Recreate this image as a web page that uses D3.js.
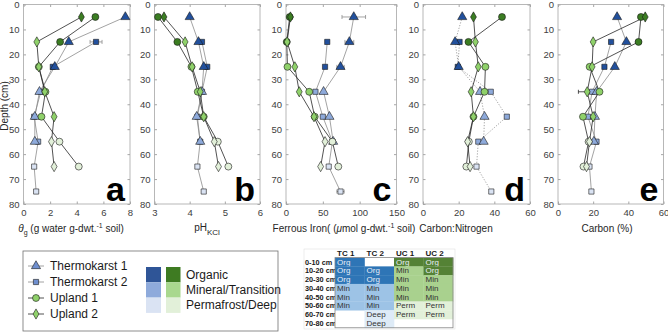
<!DOCTYPE html>
<html>
<head>
<meta charset="utf-8">
<script src="https://cdn.jsdelivr.net/npm/d3@7"></script>
<style>
body{margin:0;background:#fff;}
svg{font-family:"Liberation Sans",Arial,sans-serif;}
</style>
</head>
<body>
<svg id="chart" width="668" height="332"></svg>
<script>
// depths (cm, mid point of each 10 cm slice)
var depthTK1=[5,15,25,35,45,55];
var depthTK2=[15,25,35,45,55,65,75];
var depthUP=[5,15,25,35,45,55,65];

// horizon of each point (sets marker fill)
var hzTK1=["org","org","org","min","min","min"];
var hzTK2=["org","org","min","min","min","deep","deep"];
var hzUP1=["org","org","min","min","min","perm","perm"];
var hzUP2=["org","min","min","min","min","perm","perm"];

// a: gravimetric water
var moistTK1=[7.65,3.4,2.35,1.2,0.85,0.85];
var moistTK2=[5.45,2.2,1.3,0.8,1.1,0.8,0.95];
var moistUP1=[5.4,2.75,1.15,1.65,1.35,2.7,4.15];
var moistUP2=[4.35,1.0,1.15,1.6,2.3,2.1,2.3];
// b: pH
var phTK1=[4.0,4.25,4.4,4.35,4.2,4.3];
var phTK2=[4.35,4.5,4.35,4.22,4.3,4.22,4.4];
var phUP1=[3.1,3.65,4.05,4.23,4.4,4.8,5.1];
var phUP2=[3.27,3.87,4.07,4.3,4.4,4.7,4.82];
// c: ferrous iron
var feTK1=[92,86,74,51,59,64];
var feTK2=[56,53,40,50,63,58,74];
var feUP1=[5,1,2,31.5,39,63,71];
var feUP2=[6,1.5,12,18,38,53,47];
// d: C:N
var cnTK1=[22,18,20,32,34.5,34];
var cnTK2=[20.5,19.5,38,47,31,30,38.3];
var cnUP1=[44.3,25.5,35,34.5,28.3,25.7,24.3];
var cnUP2=[28.3,29.4,31,27,28.3,25,26.4];
// e: carbon
var cTK1=[33.6,38.9,32.3,22,21,20.4];
var cTK2=[30.2,26.4,19.4,17,21.9,17.9,19];
var cUP1=[47.2,45.8,18,23.6,14.2,17.4,14.5];
var cUP2=[49.6,20,19.4,16.6,20,17.9,16.2];

// error bars: [series index, point index, half width]
var errMoist=[[1,0,0.45]];
var errFe=[[0,0,16],[0,1,6],[0,2,5],[1,6,5]];
var errC=[[3,3,5],[2,0,1.5],[2,1,1.5]];

var panelLetters=["a","b","c","d","e"];
var panelDomains=[[0,8],[3,6],[0,150],[0,60],[0,60]];
var panelTicks=[[0,2,4,6,8],[3,4,5,6],[0,50,100,150],[0,20,40,60],[0,20,40,60]];
var depthTicks=[0,10,20,30,40,50,60,70,80];

// legend / table
var seriesNames=["Thermokarst 1","Thermokarst 2","Upland 1","Upland 2"];
var horizonNames=["Organic","Mineral/Transition","Permafrost/Deep"];
var tableCols=["TC 1","TC 2","UC 1","UC 2"];
var tableRows=["0-10 cm","10-20 cm","20-30 cm","30-40 cm","40-50 cm","50-60 cm","60-70 cm","70-80 cm"];
var tableTC1=["Org","Org","Org","Min","Min","Min","",""];
var tableTC2=["","Org","Org","Min","Min","Min","Deep","Deep"];
var tableUC1=["Org","Min","Min","Min","Min","Perm","Perm",""];
var tableUC2=["Org","Org","Min","Min","Min","Perm","Perm",""];

var markerFill={
	blue:{org:"#22509c",min:"#8eaadb",deep:"#dae3f3"},
	green:{org:"#3b7d22",min:"#8fd16a",perm:"#e2f0d9"}
};

var svg=d3.select("#chart");
var plotTop=4.5,plotBottom=204;
var panelLeft=[23.5,154.5,286,423,558];
var panelRight=[130,260,396.5,530,663.5];
var yScale=d3.scaleLinear().domain([0,80]).range([plotTop,plotBottom]);

var series=[
	{sym:d3.symbolTriangle,size:36,depth:depthTK1,hz:hzTK1,pal:"blue",line:"#8c8c8c"},
	{sym:d3.symbolSquare,size:27,depth:depthTK2,hz:hzTK2,pal:"blue",line:"#8c8c8c"},
	{sym:d3.symbolCircle,size:38,depth:depthUP,hz:hzUP1,pal:"green",line:"#262626"},
	{sym:d3.symbolDiamond,size:30,depth:depthUP,hz:hzUP2,pal:"green",line:"#262626"}
];
var panelValues=[
	[moistTK1,moistTK2,moistUP1,moistUP2],
	[phTK1,phTK2,phUP1,phUP2],
	[feTK1,feTK2,feUP1,feUP2],
	[cnTK1,cnTK2,cnUP1,cnUP2],
	[cTK1,cTK2,cUP1,cUP2]
];
var panelErr=[errMoist,[],errFe,[],errC];

panelLetters.forEach(function(letter,p){
	var x=d3.scaleLinear().domain(panelDomains[p]).range([panelLeft[p],panelRight[p]]);
	var g=svg.append("g").attr("class","panel");

	g.append("rect").attr("x",panelLeft[p]).attr("y",plotTop)
		.attr("width",panelRight[p]-panelLeft[p]).attr("height",plotBottom-plotTop)
		.attr("fill","#fff").attr("stroke","#a6a6a6").attr("stroke-width",0.8);

	//axes, ticks inward
	g.append("g").attr("transform","translate(0,"+plotBottom+")")
		.call(d3.axisBottom(x).tickValues(panelTicks[p]).tickSize(-2.5).tickPadding(5).tickFormat(d3.format("d")));
	g.append("g").attr("transform","translate("+panelLeft[p]+",0)")
		.call(d3.axisLeft(yScale).tickValues(depthTicks).tickSize(-2.5).tickPadding(4).tickFormat(d3.format("d")));
	g.append("g").attr("transform","translate(0,"+plotTop+")")
		.call(d3.axisTop(x).tickValues(panelTicks[p]).tickSize(-2.5).tickFormat(""));
	g.append("g").attr("transform","translate("+panelRight[p]+",0)")
		.call(d3.axisRight(yScale).tickValues(depthTicks).tickSize(-2.5).tickFormat(""));
	g.selectAll(".domain").remove();
	g.selectAll(".tick line").attr("stroke","#a6a6a6");
	g.selectAll(".tick text").attr("fill","#404040").style("font-size","9.5px")
		.style("font-family","'Liberation Sans',Arial,sans-serif");

	var vals=panelValues[p];
	var order=[1,0,2,3];
	order.forEach(function(s){
		var sr=series[s];
		var pts=vals[s].map(function(v,i){return {v:v,d:sr.depth[i],hz:sr.hz[i]};});
		var line=d3.line().x(function(d){return x(d.v);}).y(function(d){return yScale(d.d);});
		g.append("path").datum(pts).attr("d",line).attr("fill","none")
			.attr("stroke",sr.line).attr("stroke-width",0.8)
			.attr("stroke-dasharray",(p===3&&s<2)?"1.2,1.6":null);
	});
	panelErr[p].forEach(function(e){
		var sr=series[e[0]];
		var v=vals[e[0]][e[1]],yy=yScale(sr.depth[e[1]]);
		var eg=g.append("g").attr("stroke",sr.line).attr("stroke-width",0.8);
		eg.append("line").attr("x1",x(v-e[2])).attr("x2",x(v+e[2])).attr("y1",yy).attr("y2",yy);
		eg.append("line").attr("x1",x(v-e[2])).attr("x2",x(v-e[2])).attr("y1",yy-2).attr("y2",yy+2);
		eg.append("line").attr("x1",x(v+e[2])).attr("x2",x(v+e[2])).attr("y1",yy-2).attr("y2",yy+2);
	});
	order.forEach(function(s){
		var sr=series[s];
		g.selectAll(null).data(vals[s]).enter().append("path")
			.attr("d",d3.symbol().type(sr.sym).size(sr.size))
			.attr("transform",function(v,i){return "translate("+x(v)+","+yScale(sr.depth[i])+")";})
			.attr("fill",function(v,i){return markerFill[sr.pal][sr.hz[i]];})
			.attr("stroke","#1a1a1a").attr("stroke-width",0.6);
	});

	g.append("text").attr("x",panelRight[p]-5).attr("y",plotBottom-3)
		.attr("text-anchor","end").style("font-size","34px").style("font-weight","bold")
		.attr("fill","#000").text(letter);
});

svg.append("text").attr("transform","translate(7.5,106) rotate(-90)")
	.attr("text-anchor","middle").style("font-size","10px").attr("fill","#262626").text("Depth (cm)");

//axis titles
var t=svg.append("text").attr("x",71).attr("y",232).attr("text-anchor","middle")
	.style("font-size","10px").attr("fill","#262626");
t.append("tspan").style("font-style","italic").text("θ");
t.append("tspan").attr("dy",3).style("font-size","7px").text("g");
t.append("tspan").attr("dy",-3).text(" (g water g-dwt.");
t.append("tspan").attr("dy",-4).style("font-size","7px").text("-1");
t.append("tspan").attr("dy",4).text(" soil)");

t=svg.append("text").attr("x",207).attr("y",231).attr("text-anchor","middle")
	.style("font-size","10px").attr("fill","#262626");
t.append("tspan").text("pH");
t.append("tspan").attr("dy",4).style("font-size","8px").text("KCl");

t=svg.append("text").attr("x",344).attr("y",232).attr("text-anchor","middle")
	.style("font-size","10px").attr("fill","#262626");
t.append("tspan").text("Ferrous Iron( (");
t.append("tspan").style("font-style","italic").text("μ");
t.append("tspan").text("mol g-dwt.");
t.append("tspan").attr("dy",-4).style("font-size","7px").text("-1");
t.append("tspan").attr("dy",4).text(" soil)");

svg.append("text").attr("x",456).attr("y",232).attr("text-anchor","middle")
	.style("font-size","10px").attr("fill","#262626").text("Carbon:Nitrogen");
svg.append("text").attr("x",607).attr("y",232).attr("text-anchor","middle")
	.style("font-size","10px").attr("fill","#262626").text("Carbon  (%)");

// legend
var lg=svg.append("g");
lg.append("rect").attr("x",23).attr("y",251).attr("width",255).attr("height",80)
	.attr("fill","#fff").attr("stroke","#707070").attr("stroke-width",0.8);
var legendFill=["#6f8fcf","#6f8fcf","#8fd16a","#8fd16a"];
seriesNames.forEach(function(name,i){
	var yy=266+i*16;
	lg.append("line").attr("x1",28).attr("x2",44).attr("y1",yy).attr("y2",yy)
		.attr("stroke",series[i].line).attr("stroke-width",0.8);
	lg.append("path").attr("d",d3.symbol().type(series[i].sym).size(series[i].size))
		.attr("transform","translate(36,"+yy+")").attr("fill",legendFill[i])
		.attr("stroke","#1a1a1a").attr("stroke-width",0.6);
	lg.append("text").attr("x",50).attr("y",yy+4).style("font-size","12px")
		.attr("fill","#1a1a1a").text(name);
});
var swatchBlue=["#2f5597","#8eaadb","#dae3f3"];
var swatchGreen=["#3e7b22","#a9d88e","#e2f0d9"];
horizonNames.forEach(function(name,i){
	var yy=267+i*15.3;
	lg.append("rect").attr("x",146).attr("y",yy).attr("width",15).attr("height",15.3).attr("fill",swatchBlue[i]);
	lg.append("rect").attr("x",166).attr("y",yy).attr("width",14.5).attr("height",15.3).attr("fill",swatchGreen[i]);
	lg.append("text").attr("x",186).attr("y",yy+11.5).style("font-size","12px")
		.attr("fill","#1a1a1a").text(name);
});

// horizon table
var tb=svg.append("g");
var colX=[335,364.5,394,423.5],colW=29.5,rowTop=257.6,rowH=8.77;
var cellFill={
	TC:{Org:"#2e75b6",Min:"#9dc3e6",Deep:"#deebf7"},
	UC:{Org:"#548235",Min:"#a9d18e",Perm:"#e2f0d9"}
};
var tableData=[tableTC1,tableTC2,tableUC1,tableUC2];
tb.append("rect").attr("x",304).attr("y",249).attr("width",151).attr("height",80)
	.attr("fill","#fff").attr("stroke","#e0e0e0").attr("stroke-width",0.6);
//row labels go under the cells, so the long ones are cut like in a spreadsheet
tableRows.forEach(function(r,i){
	tb.append("text").attr("x",305).attr("y",rowTop+i*rowH+7).style("font-size","7.3px")
		.style("font-weight","bold").attr("fill","#1a1a1a").text(r);
});
tb.append("rect").attr("x",335).attr("y",rowTop).attr("width",118).attr("height",rowH*8).attr("fill","#fff");
tableCols.forEach(function(c,j){
	tb.append("text").attr("x",colX[j]+2).attr("y",rowTop-2).style("font-size","8px")
		.style("font-weight","bold").attr("fill","#1a1a1a").text(c);
	var grp=c.slice(0,2);
	tableData[j].forEach(function(v,i){
		if(!v)return;
		tb.append("rect").attr("x",colX[j]).attr("y",rowTop+i*rowH).attr("width",colW+0.3).attr("height",rowH+0.3)
			.attr("fill",cellFill[grp][v]);
		tb.append("text").attr("x",colX[j]+2).attr("y",rowTop+i*rowH+7).style("font-size","8px")
			.attr("fill",v==="Org"?"#e8eef7":"#333").text(v);
	});
});
tb.append("rect").attr("x",335).attr("y",rowTop).attr("width",118).attr("height",rowH*8)
	.attr("fill","none").attr("stroke","#888").attr("stroke-width",0.8);
</script>
</body>
</html>
